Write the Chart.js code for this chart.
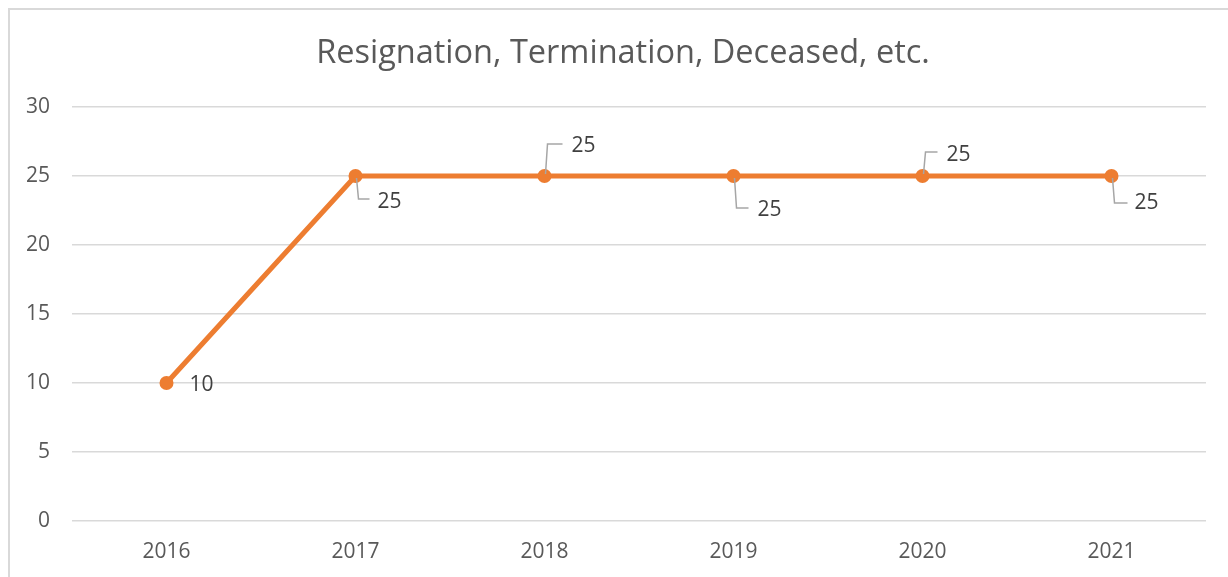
<html lang="en">
<head>
<meta charset="UTF-8">
<script src="https://cdn.jsdelivr.net/npm/chart.js"></script>
<title>Resignation, Termination, Deceased, etc.</title>
<style>
  body { margin: 0; background: #fff; overflow: hidden; }
  #frame { position: absolute; left: 8px; top: 8px; width: 1240px; height: 600px;
           border-left: 2px solid #d9d9d9; border-top: 2px solid #d9d9d9; }
  #wrap { position: absolute; left: 0; top: 0; width: 1228px; height: 577px; }
</style>
</head>
<body>
<div id="frame"></div>
<div id="wrap"><canvas id="myChart"></canvas></div>
<script>
const chartTitle = 'Resignation, Termination, Deceased, etc.';
const years = ['2016', '2017', '2018', '2019', '2020', '2021'];
const counts = [10, 25, 25, 25, 25, 25];
const yTicks = [0, 5, 10, 15, 20, 25, 30];

// where each data label sits relative to its point (Excel moved them by hand)
const labelPlacement = [
  { dx: 23, dy: 2 },
  { dx: 22, dy: 26, ly: 23, lx: 14 },
  { dx: 27, dy: -30, ly: -32, lx: 18 },
  { dx: 24, dy: 34, ly: 32, lx: 15 },
  { dx: 24, dy: -21, ly: -24, lx: 15 },
  { dx: 23, dy: 27, ly: 27, lx: 16 }
];

const font = "'Open Sans', sans-serif";

// Excel centres the title on the whole chart frame, not the plot
const frameTitle = {
  id: 'frameTitle',
  afterDraw(chart) {
    const ctx = chart.ctx;
    ctx.save();
    ctx.fillStyle = '#595959';
    ctx.font = '32.5px ' + font;
    ctx.textAlign = 'center';
    ctx.textBaseline = 'middle';
    ctx.fillText(chartTitle, 623, 54);
    ctx.restore();
  }
};

const dataLabels = {
  id: 'dataLabels',
  afterDatasetsDraw(chart) {
    const ctx = chart.ctx;
    const meta = chart.getDatasetMeta(0);
    ctx.save();
    meta.data.forEach((pt, i) => {
      const p = labelPlacement[i];
      if (p.ly !== undefined) {
        ctx.strokeStyle = '#a6a6a6';
        ctx.lineWidth = 1.5;
        ctx.beginPath();
        ctx.moveTo(pt.x + 1, pt.y + (p.ly > 0 ? 2 : -2));
        ctx.lineTo(pt.x + 3, pt.y + p.ly);
        ctx.lineTo(pt.x + p.lx, pt.y + p.ly);
        ctx.stroke();
      }
      ctx.fillStyle = '#404040';
      ctx.font = '21px ' + font;
      ctx.textAlign = 'left';
      ctx.textBaseline = 'middle';
      ctx.fillText(String(counts[i]), pt.x + p.dx, pt.y + p.dy);
    });
    ctx.restore();
  }
};

const ctx = document.getElementById('myChart');
new Chart(ctx, {
  type: 'line',
  data: {
    labels: years,
    datasets: [{
      label: chartTitle,
      data: counts,
      borderColor: '#ed7d31',
      backgroundColor: '#ed7d31',
      borderWidth: 5,
      pointRadius: 7,
      pointBackgroundColor: '#ed7d31',
      pointBorderWidth: 0,
      tension: 0
    }]
  },
  options: {
    responsive: true,
    maintainAspectRatio: false,
    animation: false,
    layout: { padding: { left: 10, right: 22, top: 107, bottom: 0 } },
    plugins: {
      legend: { display: false },
      tooltip: { enabled: false },
      title: { display: false }
    },
    scales: {
      x: {
        offset: true,
        grid: { display: false, drawTicks: false },
        border: { display: false },
        ticks: { color: '#595959', font: { family: font, size: 21 }, padding: 18 },
        afterFit: s => { s.height = 56; }
      },
      y: {
        min: 0,
        max: 30,
        afterBuildTicks: s => { s.ticks = yTicks.map(v => ({ value: v })); },
        grid: { color: '#d9d9d9', lineWidth: 1.5, drawTicks: false },
        border: { display: false },
        ticks: { color: '#595959', font: { family: font, size: 21 }, padding: 22 },
        afterFit: s => { s.width = 62; }
      }
    }
  },
  plugins: [dataLabels, frameTitle]
});
</script>
</body>
</html>
